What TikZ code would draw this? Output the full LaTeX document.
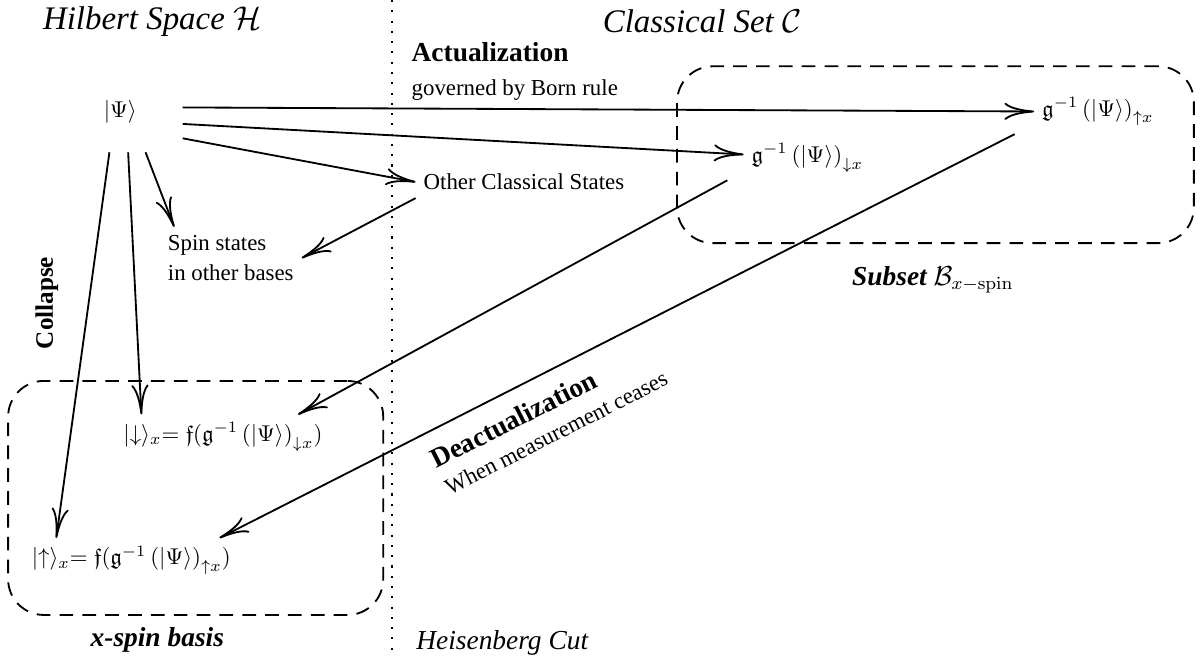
\documentclass[tikz,border=0pt]{standalone}
\usepackage{amsmath}
\usepackage{amssymb}
\usepackage[no-math]{fontspec}
\setmainfont{Liberation Serif}
\usetikzlibrary{positioning, arrows.meta, calc}

\begin{document}
\begin{tikzpicture}[
  heading/.style={font=\Large\itshape},
  state/.style={font=\normalsize},
  setbox/.style={draw, thick, dash pattern=on 6pt off 4pt, rounded corners=0.55cm},
  arr/.style={-{To[length=13pt, width=7.5pt]}, thick},
  heisencut/.style={line width=0.9pt, dash pattern=on 0.9pt off 3.6pt},
  boldlabel/.style={font=\bfseries\fontsize{11}{13}\selectfont},
  setlabel/.style={font=\large\bfseries\itshape}
]
\useasboundingbox (0,0) rectangle (18.49,10.11);

% === Headings and the cut ====================================================
\node[heading]                     (hilbert)   at (2.34,  9.78) {Hilbert Space $\mathcal{H}$};
\node[heading]                     (classical) at (10.80, 9.78) {Classical Set $\mathcal{C}$};
\coordinate (cuttop) at (6.03, 10.11);
\coordinate (cutbot) at (6.03, 0);
\draw[heisencut] (cuttop) -- (cutbot);
\node[font=\large\itshape, anchor=west] (cutlabel) at (6.28, 0.22) {Heisenberg Cut};

% === Sets (dashed) ===========================================================
\node[setbox, minimum width=7.95cm, minimum height=2.72cm] (bset) at (14.39, 7.73) {};
\node[setbox, minimum width=5.77cm, minimum height=3.60cm] (xset) at (3.01,  2.45) {};
\node[setlabel] (bsetlabel) at (14.35, 5.80) {Subset $\mathcal{B}_{x-\mathrm{spin}}$};
\node[setlabel] (xsetlabel) at (2.42,  0.26) {x-spin basis};

% === States ==================================================================
\node[state, inner xsep=0.70cm, inner ysep=0.44cm] (psi) at (1.85, 8.39) {$\lvert\Psi\rangle$};
\node[state] (gup)   at (16.89, 8.39) {$\mathfrak{g}^{-1}\left(\lvert\Psi\rangle\right)_{\uparrow x}$};
\node[state] (gdown) at (12.42, 7.68) {$\mathfrak{g}^{-1}\left(\lvert\Psi\rangle\right)_{\downarrow x}$};
\node[state] (other) at (8.06,  7.31) {Other Classical States};
\node[state, align=left] (spin) at (3.55, 6.14) {Spin states\\[1.5pt] in other bases};
\node[state] (down)  at (3.43,  3.39)
  {$\lvert\downarrow\rangle_x{=}\;\mathfrak{f}(\mathfrak{g}^{-1}\left(\lvert\Psi\rangle\right)_{\downarrow x})$};
\node[state] (up)    at (2.02,  1.49)
  {$\lvert\uparrow\rangle_x{=}\;\mathfrak{f}(\mathfrak{g}^{-1}\left(\lvert\Psi\rangle\right)_{\uparrow x})$};
\node[boldlabel, rotate=90] (collapse) at (0.72, 5.45) {Collapse};

% === Actualization ===========================================================
\draw[arr] (psi.4) -- node[pos=0.39, above, align=left]
  {\large\textbf{Actualization}\\[3pt] governed by Born rule} (gup);
\draw[arr] (psi.-11) -- (gdown);
\draw[arr] (psi.-23) -- (other.west);
\draw[arr] (other.south west) -- (spin.east);
\draw[arr] (psi.-58) -- ([xshift=0.22cm]spin.north west);

% === Collapse ================================================================
\draw[arr] (psi.-79)  -- ([xshift=0.40cm]down.north west);
\draw[arr] (psi.-105) -- ([xshift=0.50cm]up.north west);

% === Deactualization =========================================================
\draw[arr] ([xshift=-0.25cm]gdown.south west) -- ([xshift=-0.50cm]down.north east);
\draw[arr] ([xshift=-0.30cm]gup.south west) -- node[pos=0.61, sloped, below=4pt, align=left]
  {\large\textbf{Deactualization}\\[1pt] When measurement ceases} ([xshift=-0.30cm]up.north east);

\end{tikzpicture}
\end{document}
